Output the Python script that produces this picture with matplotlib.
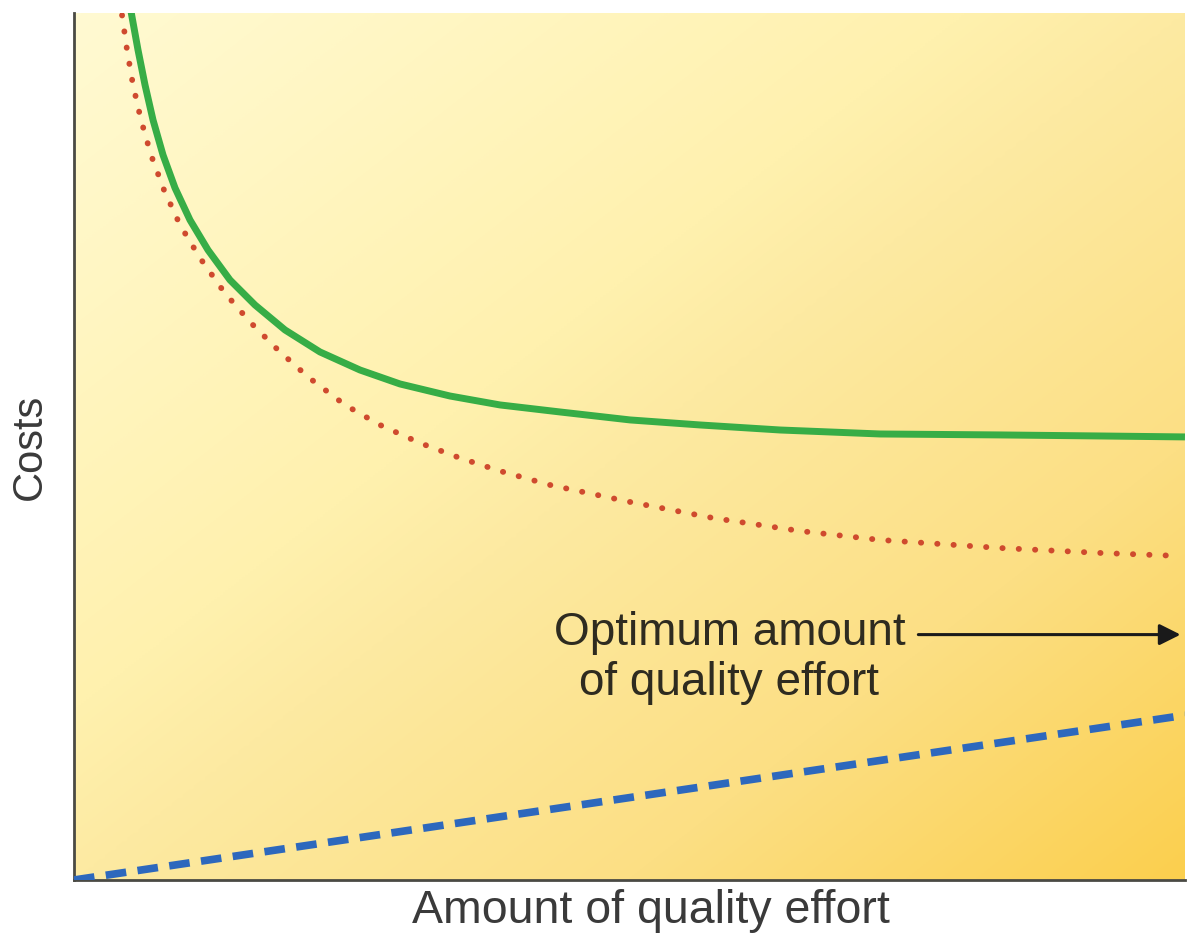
import numpy as np
import matplotlib
matplotlib.use("Agg")
import matplotlib.pyplot as plt
from matplotlib.colors import LinearSegmentedColormap

plt.rcParams['font.family'] = ['Liberation Sans', 'DejaVu Sans']

# total cost of quality (solid green)
total_x = [4.95, 5.22, 5.76, 6.39, 7.11, 8.01, 9.09, 10.44, 12.06, 14.04, 16.29, 18.99, 22.14,
           25.74, 29.34, 33.84, 38.34, 43.74, 50.05, 56.35, 63.55, 72.55, 83.35, 92.35, 100.0]
total_y = [101.5, 99.54, 95.73, 91.70, 87.66, 83.62, 79.82, 76.12, 72.66, 69.20, 66.32, 63.44, 60.90,
           58.82, 57.21, 55.82, 54.79, 53.98, 53.06, 52.48, 51.90, 51.44, 51.33, 51.21, 51.10]

# cost of failures (red dotted)
fail_x = [4.05, 4.32, 4.77, 5.31, 6.03, 6.93, 8.10, 9.54, 11.34, 13.50, 15.84, 18.36, 21.06,
          24.39, 27.54, 31.14, 34.74, 38.34, 42.84, 50.05, 57.52, 65.35, 72.55, 83.35, 92.35, 99.55]
fail_y = [102.3, 99.77, 95.73, 91.70, 87.66, 83.62, 79.58, 75.55, 71.74, 67.82, 64.36, 61.13, 58.02,
          54.79, 52.48, 50.40, 48.67, 47.17, 45.56, 43.60, 41.75, 40.25, 39.22, 38.29, 37.72, 37.37]

# cost of quality effort (blue dashed)
effort_x = [0.0, 100.0]
effort_y = [0.0, 19.0]

fig = plt.figure(figsize=(11.92, 9.46), dpi=100)
ax = fig.add_axes([0.0621, 0.0698, 0.932, 0.9165])

# diagonal pale-to-gold wash behind the curves
gx, gy = np.meshgrid(np.linspace(0, 1, 400), np.linspace(1, 0, 400))
t = np.clip(0.5 * gx + 0.5 * (1 - gy), 0, 1)
cmap = LinearSegmentedColormap.from_list(
    "wash", [(0.0, "#fffad2"), (0.4, "#fff1ae"), (0.5, "#fdeaa2"),
             (0.75, "#fcdf84"), (1.0, "#fbcf4e")])
ax.imshow(t, cmap=cmap, extent=[0, 100, 0, 100], aspect="auto",
          interpolation="bilinear", zorder=0)

ax.plot(total_x, total_y, color="#37ad46", lw=5, solid_capstyle="butt",
        solid_joinstyle="round", zorder=3)
ax.plot(fail_x, fail_y, color="#cf4a2e", lw=4.2, linestyle=(0, (0.05, 2.75)),
        dash_capstyle="round", zorder=3)
ax.plot(effort_x, effort_y, color="#2d68bd", lw=5.5, linestyle=(0, (2.7, 1.5)),
        dash_capstyle="butt", zorder=3)

ax.annotate("", xy=(99.6, 28.3), xytext=(76.0, 28.3),
            arrowprops=dict(arrowstyle="-|>", color="#1a1a1a", lw=2.2,
                            mutation_scale=32, shrinkA=0, shrinkB=0))
ax.text(59.0, 25.6, "Optimum amount\nof quality effort", ha="center", va="center",
        fontsize=33, color="#2e2b20", linespacing=1.2)

ax.set_xlim(0, 100)
ax.set_ylim(0, 100)
ax.set_xticks([])
ax.set_yticks([])
for side in ("top", "right"):
    ax.spines[side].set_visible(False)
for side in ("left", "bottom"):
    ax.spines[side].set_color("#4a4a44")
    ax.spines[side].set_linewidth(2)

ax.set_xlabel("Amount of quality effort", fontsize=33.5, color="#3a3a3a")
ax.xaxis.set_label_coords(0.519, -0.010)
ax.set_ylabel("Costs", fontsize=30, color="#3a3a3a")
ax.yaxis.set_label_coords(-0.022, 0.5)

fig.savefig("out.png", dpi=100, facecolor="white")
